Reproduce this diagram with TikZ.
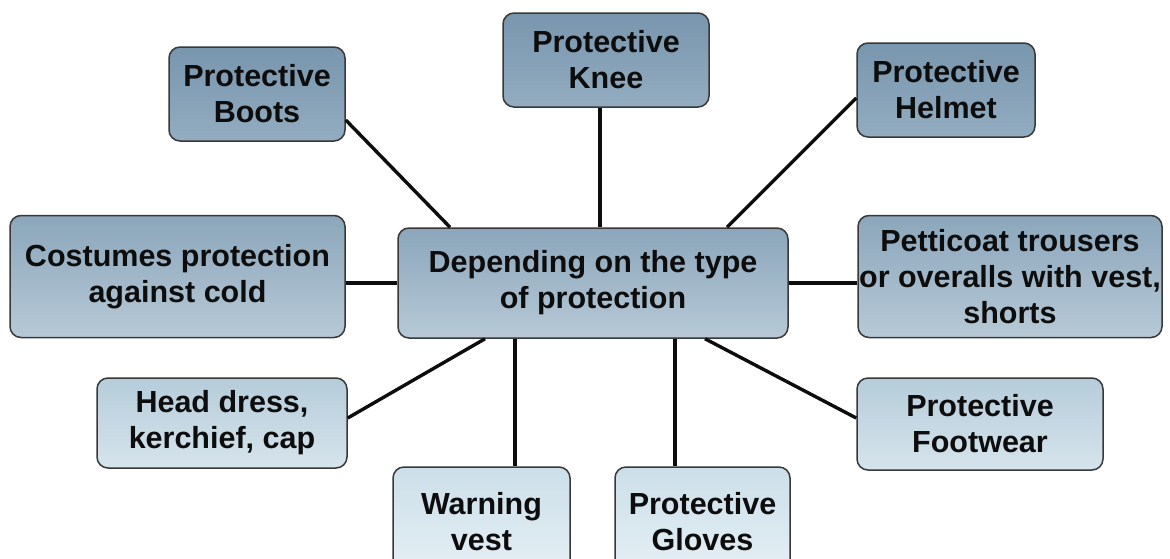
\documentclass[tikz,border=0pt]{standalone}
\usepackage{fontspec}
\setmainfont{Liberation Sans}
\begin{document}
\begin{tikzpicture}[x=1pt,y=-1pt,
  box/.style={draw=black!78, line width=1.5pt, rounded corners=11pt,
    align=center, text=black!95, inner sep=0pt,
    font=\fontsize{30.5}{36}\selectfont\bfseries},
  darkbox/.style={box, top color=c1t, bottom color=c1b},
  midbox/.style={box, top color=c2t, bottom color=c2b},
  lightbox/.style={box, top color=c3t, bottom color=c3b},
  palebox/.style={box, top color=c4t, bottom color=c4b},
  link/.style={line width=3.4pt, black!95}]
\definecolor{c1t}{HTML}{7896AE}
\definecolor{c1b}{HTML}{93ACC0}
\definecolor{c2t}{HTML}{8BA6BB}
\definecolor{c2b}{HTML}{B7C9D6}
\definecolor{c3t}{HTML}{B6CCDA}
\definecolor{c3b}{HTML}{D6E4EC}
\definecolor{c4t}{HTML}{CCDFE9}
\definecolor{c4b}{HTML}{E6F0F5}
\useasboundingbox (0,0) rectangle (1170,558);
\clip (0,0) rectangle (1170,558);

% outer ring of categories
\node[darkbox, minimum width=176pt, minimum height=94pt] (boots) at (257,94) {Protective\\Boots};
\node[darkbox, minimum width=206pt, minimum height=94pt] (knee) at (606,60) {Protective\\Knee};
\node[darkbox, minimum width=178pt, minimum height=94pt] (helmet) at (946,90) {Protective\\Helmet};
\node[midbox, minimum width=335pt, minimum height=122pt] (cold) at (177.5,276.5) {Costumes protection\\against cold};
\node[midbox, minimum width=390pt, minimum height=110pt] (center) at (593,283) {Depending on the type\\of protection};
\node[midbox, minimum width=304pt, minimum height=122pt] (trousers) at (1010,276.5) {Petticoat trousers\\or overalls with vest,\\shorts};
\node[lightbox, minimum width=250pt, minimum height=90pt] (head) at (222,423) {Head dress,\\kerchief, cap};
\node[lightbox, minimum width=246pt, minimum height=92pt] (footwear) at (980,424) {Protective\\Footwear};
\node[palebox, minimum width=177pt, minimum height=110pt] (vest) at (481.5,522) {Warning\\vest};
\node[palebox, minimum width=175pt, minimum height=110pt] (gloves) at (702.5,522) {Protective\\Gloves};

% spokes from the centre
\draw[link] ([yshift=-26pt]boots.east) -- ([xshift=-143pt]center.north);
\draw[link] ([xshift=-6pt]knee.south) -- ([xshift=-6pt]knee.south |- center.north);
\draw[link] ([yshift=-8pt]helmet.west) -- ([xshift=134pt]center.north);
\draw[link] (center.west) -- (center.west -| cold.east);
\draw[link] (center.east) -- (center.east -| trousers.west);
\draw[link] ([yshift=5pt]head.east) -- ([xshift=-108pt]center.south);
\draw[link] ([xshift=-78pt]center.south) -- ([xshift=-78pt]center.south |- vest.north);
\draw[link] ([xshift=82pt]center.south) -- ([xshift=82pt]center.south |- gloves.north);
\draw[link] ([xshift=112pt]center.south) -- ([yshift=6pt]footwear.west);
\end{tikzpicture}
\end{document}
